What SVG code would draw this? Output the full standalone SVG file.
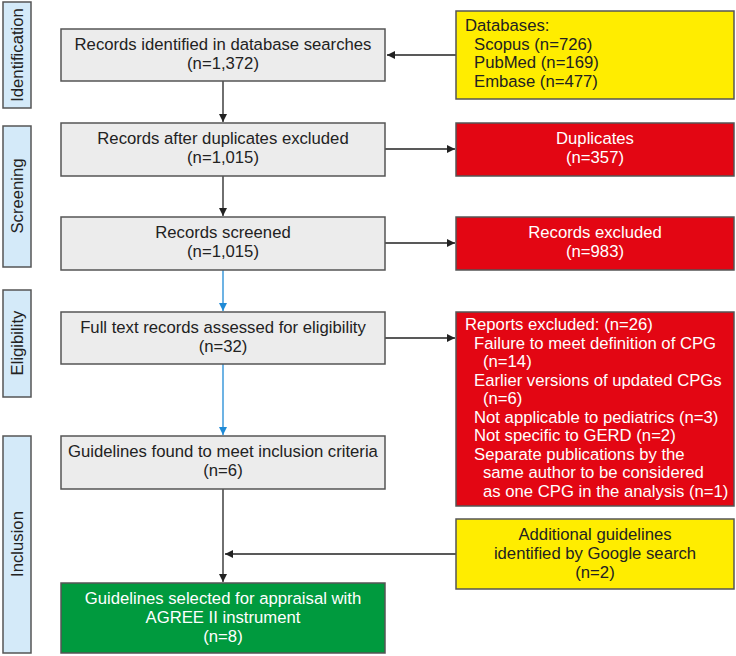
<svg xmlns="http://www.w3.org/2000/svg" width="736" height="656" viewBox="0 0 736 656">
<defs>
<style>
text{font-family:"Liberation Sans",Arial,sans-serif;font-size:16.7px;fill:#222}
.c{text-anchor:middle}
.w{fill:#fff}
.side rect{fill:#d4eaf9;stroke:#555;stroke-width:1.5}
.grey{fill:#ececec;stroke:#555;stroke-width:1.5}
.red{fill:#e30613;stroke:#555;stroke-width:1.5}
.yel{fill:#ffed00;stroke:#555;stroke-width:1.5}
.grn{fill:#009a3e;stroke:#555;stroke-width:1.5}
.k{stroke:#222;stroke-width:1.3;fill:none}
.b{stroke:#1f8ad6;stroke-width:1.3;fill:none}
</style>
<marker id="ak" viewBox="0 0 10 10" refX="10" refY="5" markerWidth="8" markerHeight="8" markerUnits="userSpaceOnUse" orient="auto"><path d="M0,0L10,5L0,10z" fill="#222"/></marker>
<marker id="ab" viewBox="0 0 10 10" refX="10" refY="5" markerWidth="8" markerHeight="8" markerUnits="userSpaceOnUse" orient="auto"><path d="M0,0L10,5L0,10z" fill="#1f8ad6"/></marker>
</defs>
<rect width="736" height="656" fill="#fff"/>
<g id="side-identification" class="side"><rect x="3" y="2" width="28" height="106"/><text class="c" transform="translate(23,55) rotate(-90)">Identification</text></g>
<g id="side-screening" class="side"><rect x="3" y="126" width="28" height="141"/><text class="c" transform="translate(23,196) rotate(-90)">Screening</text></g>
<g id="side-eligibility" class="side"><rect x="3" y="290" width="28" height="107"/><text class="c" transform="translate(23,343) rotate(-90)">Eligibility</text></g>
<g id="side-inclusion" class="side"><rect x="3" y="436" width="28" height="217"/><text class="c" transform="translate(23,544) rotate(-90)">Inclusion</text></g>

<g id="connectors">
<path class="k" d="M456,55H387" marker-end="url(#ak)"/>
<path class="k" d="M223,81V122" marker-end="url(#ak)"/>
<path class="k" d="M385,149H455" marker-end="url(#ak)"/>
<path class="k" d="M223,176V216" marker-end="url(#ak)"/>
<path class="k" d="M385,243H455" marker-end="url(#ak)"/>
<path class="b" d="M223,270V311" marker-end="url(#ab)"/>
<path class="k" d="M385,338H455" marker-end="url(#ak)"/>
<path class="b" d="M223,364V435" marker-end="url(#ab)"/>
<path class="k" d="M223,489V582" marker-end="url(#ak)"/>
<path class="k" d="M456,554H225" marker-end="url(#ak)"/>
</g>

<g id="n1"><rect class="grey" x="61" y="29" width="324" height="52"/><text class="c" x="223" y="50">Records identified in database searches</text><text class="c" x="223" y="69">(n=1,372)</text></g>
<g id="n2"><rect class="grey" x="61" y="123" width="324" height="53"/><text class="c" x="223" y="144">Records after duplicates excluded</text><text class="c" x="223" y="163">(n=1,015)</text></g>
<g id="n3"><rect class="grey" x="61" y="217" width="324" height="53"/><text class="c" x="223" y="238">Records screened</text><text class="c" x="223" y="257">(n=1,015)</text></g>
<g id="n4"><rect class="grey" x="61" y="312" width="324" height="52"/><text class="c" x="223" y="333">Full text records assessed for eligibility</text><text class="c" x="223" y="352">(n=32)</text></g>
<g id="n5"><rect class="grey" x="61" y="436" width="324" height="53"/><text class="c" x="223" y="457">Guidelines found to meet inclusion criteria</text><text class="c" x="223" y="476">(n=6)</text></g>
<g id="n6"><rect class="grn" x="61" y="583" width="324" height="70"/><text class="c w" x="223" y="604">Guidelines selected for appraisal with</text><text class="c w" x="223" y="623">AGREE II instrument</text><text class="c w" x="223" y="642">(n=8)</text></g>

<g id="databases"><rect class="yel" x="456" y="11" width="278" height="88"/>
<text x="465" y="31">Databases:</text><text x="474" y="50">Scopus (n=726)</text><text x="474" y="68">PubMed (n=169)</text><text x="474" y="87">Embase (n=477)</text></g>
<g id="duplicates"><rect class="red" x="456" y="123" width="278" height="53"/><text class="c w" x="595" y="144">Duplicates</text><text class="c w" x="595" y="163">(n=357)</text></g>
<g id="records-excluded"><rect class="red" x="456" y="217" width="278" height="53"/><text class="c w" x="595" y="238">Records excluded</text><text class="c w" x="595" y="257">(n=983)</text></g>
<g id="reports-excluded"><rect class="red" x="456" y="312" width="278" height="194"/>
<text class="w" x="465" y="330">Reports excluded: (n=26)</text>
<text class="w" x="474" y="349">Failure to meet definition of CPG</text>
<text class="w" x="483" y="367">(n=14)</text>
<text class="w" x="474" y="386">Earlier versions of updated CPGs</text>
<text class="w" x="483" y="404">(n=6)</text>
<text class="w" x="474" y="423">Not applicable to pediatrics (n=3)</text>
<text class="w" x="474" y="441">Not specific to GERD (n=2)</text>
<text class="w" x="474" y="460">Separate publications by the</text>
<text class="w" x="483" y="478">same author to be considered</text>
<text class="w" x="483" y="497">as one CPG in the analysis (n=1)</text></g>
<g id="additional"><rect class="yel" x="456" y="519" width="278" height="70"/><text class="c" x="595" y="540">Additional guidelines</text><text class="c" x="595" y="559">identified by Google search</text><text class="c" x="595" y="578">(n=2)</text></g>
</svg>
